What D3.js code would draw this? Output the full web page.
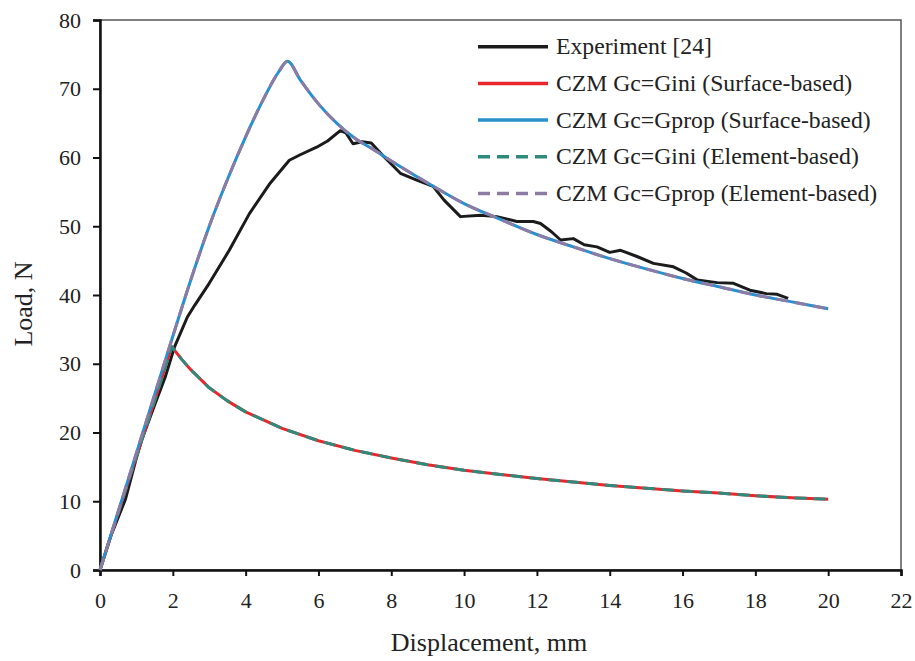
<!DOCTYPE html>
<html>
<head>
<meta charset="utf-8">
<script src="https://cdn.jsdelivr.net/npm/d3@7"></script>
<style>
  body { margin: 0; background: #fff; }
  text { font-family: "Liberation Serif", "Times New Roman", serif; fill: #222; }
</style>
</head>
<body>
<svg id="chartSvg" width="915" height="661"></svg>
<script>
// Experiment [24] (displacement mm, load N)
const experiment = [[0,0],[0.3,5],[0.7,10.3],[1.0,16.3],[1.15,19],[1.5,24],[1.8,28.2],[2.05,32.5],[2.4,36.8],[2.6,38.5],
  [3.0,41.7],[3.55,46.5],[4.1,51.8],[4.65,56.1],[5.2,59.6],[5.5,60.4],[5.95,61.5],[6.25,62.4],[6.6,63.9],[6.75,63.6],
  [6.95,62],[7.2,62.3],[7.45,62.1],[7.8,60.1],[8.25,57.7],[8.7,56.7],[9.15,55.8],[9.45,53.8],[9.9,51.4],[10.45,51.6],
  [10.9,51.4],[11.45,50.7],[11.9,50.7],[12.1,50.4],[12.4,49.2],[12.65,48],[13.0,48.2],[13.3,47.3],[13.65,47],[14.0,46.2],
  [14.3,46.5],[14.75,45.6],[15.2,44.6],[15.75,44.1],[16.1,43.2],[16.4,42.2],[16.95,41.8],[17.4,41.7],[17.85,40.7],
  [18.3,40.2],[18.6,40.1],[18.9,39.5]];

// CZM Gc=Gini
const gini = [[0,0],[0.5,8.3],[1,16.5],[1.5,24.6],[1.97,32.5],[2.25,30.6],[2.5,29.1],[3,26.5],[3.5,24.6],[4,23],[5,20.6],[6,18.8],
  [7,17.4],[8,16.3],[9,15.3],[10,14.5],[11,13.9],[12,13.3],[13,12.8],[14,12.3],[15,11.9],[16,11.5],[17,11.2],
  [18,10.8],[19,10.5],[20,10.3]];

// CZM Gc=Gprop
const gprop = [[0,0],[0.5,8.5],[1,17],[1.5,25.5],[2,34],[2.5,42.3],[3,50],[3.5,56.8],[4,63],[4.5,68.6],[4.9,72.4],
  [5.15,74],[5.5,71.3],[6,67.8],[6.5,65],[7,62.8],[7.5,61.2],[8,59.5],[9,56.3],[10,53.3],[11,51],[12,48.8],[13,47],
  [14,45.3],[15,43.8],[16,42.4],[17,41.2],[18,40],[19,39],[20,38]];

const xTicks = [0,2,4,6,8,10,12,14,16,18,20,22];
const yTicks = [0,10,20,30,40,50,60,70,80];

const seriesNames = ["Experiment [24]", "CZM Gc=Gini (Surface-based)", "CZM Gc=Gprop (Surface-based)",
  "CZM Gc=Gini (Element-based)", "CZM Gc=Gprop (Element-based)"];

const svg = d3.select("#chartSvg");
const plotL = 100, plotR = 901, plotT = 20, plotB = 570;

const x = d3.scaleLinear().domain([0, 22]).range([plotL, plotR]);
const y = d3.scaleLinear().domain([0, 80]).range([plotB, plotT]);

// frame
svg.append("rect")
  .attr("x", plotL).attr("y", plotT)
  .attr("width", plotR - plotL).attr("height", plotB - plotT)
  .attr("fill", "none").attr("stroke", "#555").attr("stroke-width", 1.5);

// axes
const xAxis = svg.append("g")
  .attr("transform", `translate(0, ${plotB})`)
  .call(d3.axisBottom(x).tickValues(xTicks).tickSize(6).tickPadding(16).tickFormat(d3.format("d")));
const yAxis = svg.append("g")
  .attr("transform", `translate(${plotL}, 0)`)
  .call(d3.axisLeft(y).tickValues(yTicks).tickSize(7).tickPadding(12).tickFormat(d3.format("d")));

[xAxis, yAxis].forEach(g => {
  g.select(".domain").attr("stroke", "#111").attr("stroke-width", 2.5);
  g.selectAll(".tick line").attr("stroke", "#111").attr("stroke-width", 2);
  g.selectAll(".tick text")
    .attr("font-family", "Liberation Serif, serif")
    .attr("font-size", 22).attr("fill", "#222");
});

// lines
const line = d3.line().x(d => x(d[0])).y(d => y(d[1]));
const smooth = d3.line().x(d => x(d[0])).y(d => y(d[1])).curve(d3.curveMonotoneX);

const styles = [
  { data: experiment, color: "#1b1b1b", dash: null, gen: line },
  { data: gini, color: "#e8262c", dash: null, gen: line },
  { data: gprop, color: "#2a8fce", dash: null, gen: smooth },
  { data: gini, color: "#2e8b7b", dash: "12,7", gen: line },
  { data: gprop, color: "#8e7ba3", dash: "12,7", gen: smooth }
];

styles.forEach(s => {
  svg.append("path")
    .datum(s.data)
    .attr("d", s.gen)
    .attr("fill", "none")
    .attr("stroke", s.color)
    .attr("stroke-width", 3)
    .attr("stroke-linejoin", "round")
    .attr("stroke-dasharray", s.dash);
});

// legend
const legend = svg.append("g");
seriesNames.forEach((name, i) => {
  const ly = 46.7 + i * 36.7;
  legend.append("line")
    .attr("x1", 478).attr("x2", 548).attr("y1", ly).attr("y2", ly)
    .attr("stroke", styles[i].color).attr("stroke-width", 3.5)
    .attr("stroke-dasharray", styles[i].dash);
  legend.append("text")
    .attr("x", 556).attr("y", ly + 7.5)
    .attr("font-size", 23.7)
    .text(name);
});

// axis titles
svg.append("text")
  .attr("x", 489).attr("y", 651)
  .attr("text-anchor", "middle")
  .attr("font-size", 26)
  .text("Displacement, mm");

svg.append("text")
  .attr("transform", "translate(32, 304) rotate(-90)")
  .attr("text-anchor", "middle")
  .attr("font-size", 26)
  .text("Load, N");
</script>
</body>
</html>
